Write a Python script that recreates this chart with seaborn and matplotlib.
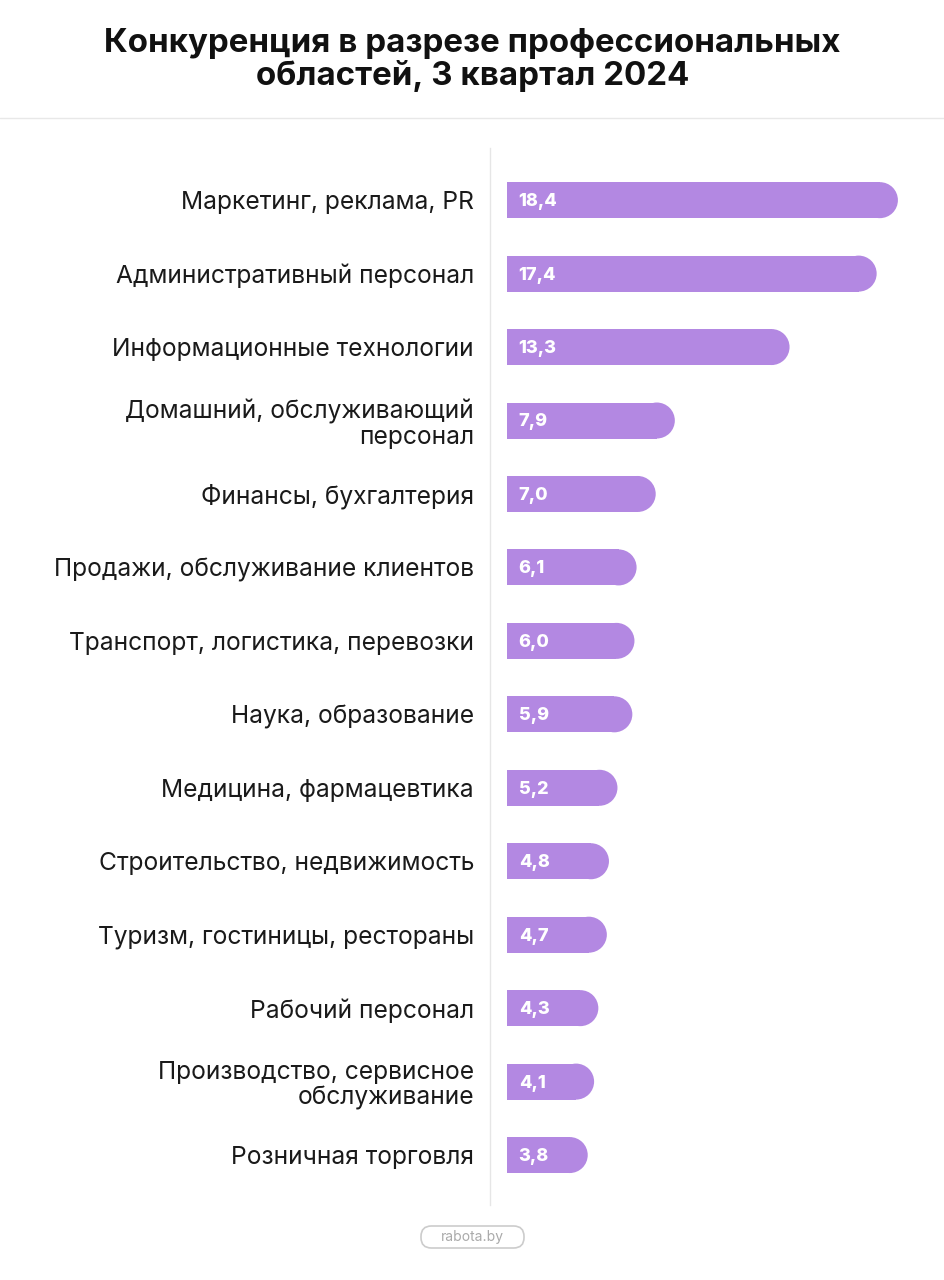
import matplotlib
matplotlib.use("Agg")
import matplotlib.pyplot as plt
import seaborn as sns
import pandas as pd
from matplotlib.patches import Ellipse, FancyBboxPatch
from matplotlib.lines import Line2D

categories = [
    "Маркетинг, реклама, PR",
    "Административный персонал",
    "Информационные технологии",
    "Домашний, обслуживающий\nперсонал",
    "Финансы, бухгалтерия",
    "Продажи, обслуживание клиентов",
    "Транспорт, логистика, перевозки",
    "Наука, образование",
    "Медицина, фармацевтика",
    "Строительство, недвижимость",
    "Туризм, гостиницы, рестораны",
    "Рабочий персонал",
    "Производство, сервисное\nобслуживание",
    "Розничная торговля",
]
values = [18.4, 17.4, 13.3, 7.9, 7.0, 6.1, 6.0, 5.9, 5.2, 4.8, 4.7, 4.3, 4.1, 3.8]
value_labels = ["18,4", "17,4", "13,3", "7,9", "7,0", "6,1", "6,0", "5,9", "5,2", "4,8", "4,7", "4,3", "4,1", "3,8"]
title = "Конкуренция в разрезе профессиональных\nобластей, 3 квартал 2024"
footer = "rabota.by"

BAR = "#B388E2"
W, H = 945, 1280
sns.set_theme(style="white")
plt.rcParams["font.family"] = ["Inter", "DejaVu Sans"]

fig = plt.figure(figsize=(W / 100, H / 100), dpi=100)
fig.patch.set_facecolor("white")
ax = fig.add_axes([490 / W, 1 - 1205 / H, 430 / W, (1205 - 148) / H])

df = pd.DataFrame({"cat": categories, "val": values})
bar_h = 0.49
sns.barplot(data=df, y="cat", x="val", orient="h", color=BAR, width=bar_h,
            saturation=1, ax=ax, linewidth=0)

ax.set_xlim(-0.8, 19.44)
ax.set_ylim(13.68, -0.71)

px_per_x = 430 / (19.44 + 0.8)
rad_px = bar_h * (1205 - 148) / (13.68 + 0.71) / 2
rx = rad_px / px_per_x

for p, v, lab in zip(ax.patches, values, value_labels):
    y0 = p.get_y()
    h = p.get_height()
    p.set_width(v - rx)
    ax.add_patch(Ellipse((v - rx, y0 + h / 2), 2 * rx, h, facecolor=BAR, edgecolor="none", linewidth=0))
    ax.text(0.55, y0 + h / 2 + 0.02, lab, color="white", fontsize=13, fontweight="heavy",
            va="center", ha="left")

ax.set_xlabel("")
ax.set_ylabel("")
ax.set_xticks([])
ax.tick_params(axis="y", length=0, pad=11.5, labelsize=17.7, labelcolor="#1a1a1a")
for t in ax.get_yticklabels():
    t.set_multialignment("right")
    t.set_linespacing(1.1)
for s in ["top", "right", "bottom"]:
    ax.spines[s].set_visible(False)
ax.spines["left"].set_color("#e6e6e6")
ax.spines["left"].set_linewidth(1)

fig.text(0.5, 1 - 60 / H, title, ha="center", va="center", fontsize=23.8, fontweight="bold",
         color="#111111", linespacing=1.02)
fig.add_artist(Line2D([0, 1], [1 - 118 / H, 1 - 118 / H], color="#e8e8e8", linewidth=1))

box = FancyBboxPatch((421 / W, 1 - 1248 / H), 103 / W, 22 / H,
                     boxstyle="round,pad=0,rounding_size=0.011", transform=fig.transFigure,
                     facecolor="white", edgecolor="#cccccc", linewidth=1.2, mutation_aspect=W / H)
fig.add_artist(box)
fig.text(472 / W, 1 - 1237 / H, footer, ha="center", va="center", fontsize=10, color="#aaaaaa")

fig.savefig("out.png", dpi=100, facecolor="white")
